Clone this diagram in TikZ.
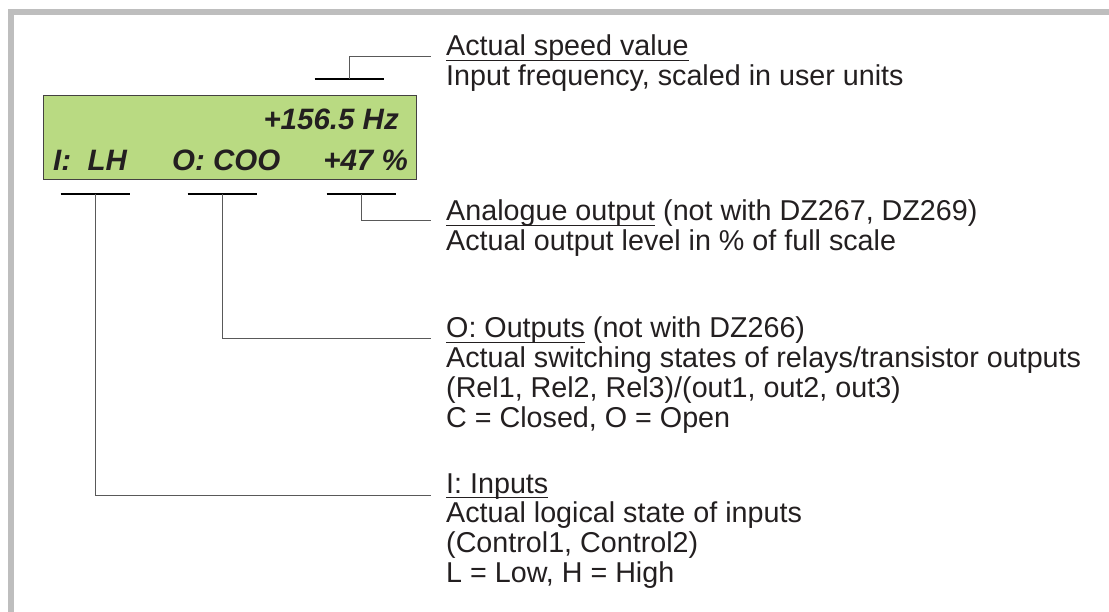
\documentclass[tikz,border=0pt]{standalone}
\usepackage{fontspec}
\setmainfont{Liberation Sans}
\usetikzlibrary{positioning,calc}

\definecolor{lcdgreen}{RGB}{185,218,130}
\definecolor{framegray}{RGB}{190,190,190}
\definecolor{ink}{RGB}{35,31,32}
\newcommand{\desclines}[1]{\begin{tabular}[t]{@{}l@{}}#1\end{tabular}}
\newsavebox\headbox
\newcommand{\headline}[1]{\sbox\headbox{#1}\rlap{\rule[-5pt]{\wd\headbox}{1.1pt}}\usebox\headbox}

\begin{document}
\begin{tikzpicture}[x=1pt,y=-1pt,
  lcd/.style={draw=ink!85, line width=1pt, fill=lcdgreen, minimum width=373pt, minimum height=84pt, inner sep=0pt},
  lcdtext/.style={font=\fontsize{29.5}{30}\selectfont\bfseries\itshape, text=ink, inner sep=0pt},
  desc/.style={font=\fontsize{28.7}{29.6}\selectfont, text=ink, inner sep=0pt, anchor=base west},
  bar/.style={line width=2pt, draw=black},
  lead/.style={line width=1pt, draw=black!65}]
  \useasboundingbox (0,0) rectangle (1109,612);
  \draw[framegray, line width=6pt] (1109,12) -- (11,12) -- (11,612);

  % display
  \node[lcd, anchor=north west] (lcd) at (43,95) {};
  \node[lcdtext, anchor=base east] (freq) at (399,130) {+156.5 Hz};
  \node[lcdtext, anchor=base west] (inp) at (53,171) {I:\ \ LH};
  \node[lcdtext, anchor=base west] (outp) at (172,171) {O: COO};
  \node[lcdtext, anchor=base east] (aout) at (408,171) {+47 \%};

  % bars
  \coordinate (speedbar) at (349,79);
  \coordinate (inbar) at (95,194);
  \coordinate (outbar) at (222,194);
  \coordinate (anbar) at (361,194);
  \foreach \b in {speedbar,inbar,outbar,anbar}
    \draw[bar] ([xshift=-34.5pt]\b) -- ([xshift=34.5pt]\b);

  % descriptions
  \node[desc] (speed) at (446,56) {\desclines{\headline{Actual speed value}\\
    Input frequency, scaled in user units}};
  \node[desc] (analog) at (446,221) {\desclines{\headline{Analogue output} (not with DZ267, DZ269)\\
    Actual output level in \% of full scale}};
  \node[desc] (outputs) at (446,338) {\desclines{\headline{O: Outputs} (not with DZ266)\\
    Actual switching states of relays/transistor outputs\\
    (Rel1, Rel2, Rel3)/(out1, out2, out3)\\
    C = Closed, O = Open}};
  \node[desc] (inputs) at (446,493) {\desclines{\headline{I: Inputs}\\
    Actual logical state of inputs\\
    (Control1, Control2)\\
    L = Low, H = High}};

  % leads
  \draw[lead] (speedbar) |- ([xshift=-15pt,yshift=-1pt]speed.base west);
  \draw[lead] (anbar) |- ([xshift=-15pt]analog.base west);
  \draw[lead] (outbar) |- ([xshift=-15pt,yshift=-1pt]outputs.base west);
  \draw[lead] (inbar) |- ([xshift=-15pt,yshift=-2pt]inputs.base west);
\end{tikzpicture}
\end{document}
